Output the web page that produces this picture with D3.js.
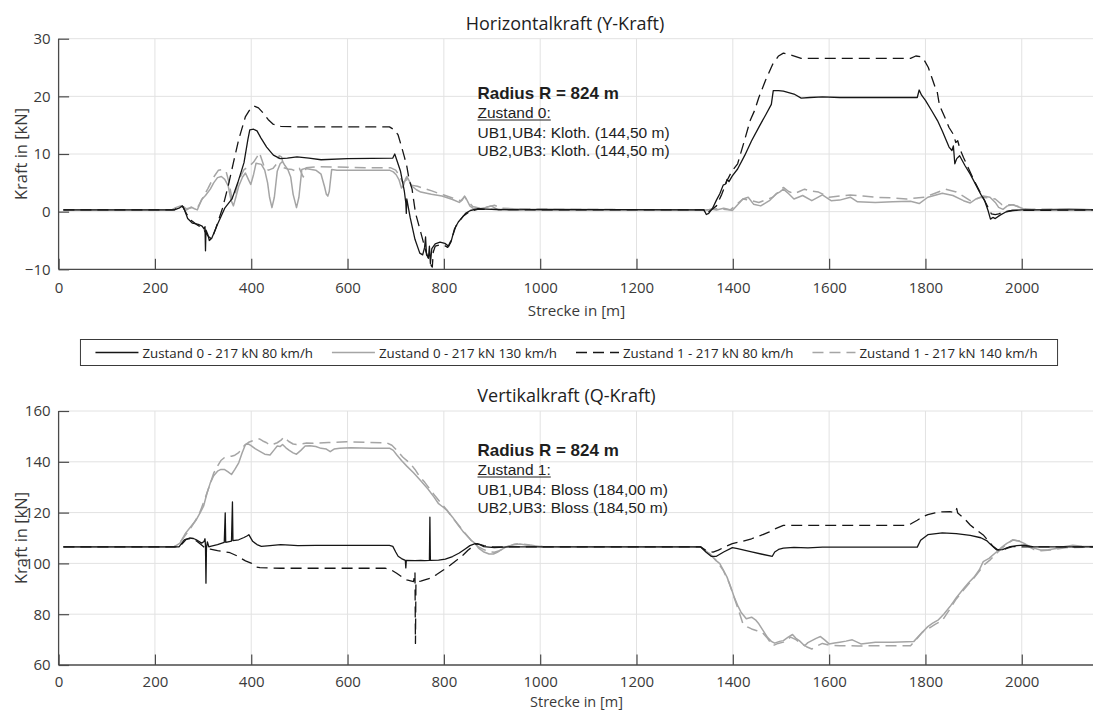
<!DOCTYPE html>
<html>
<head>
<meta charset="utf-8">
<script src="https://cdn.jsdelivr.net/npm/d3@7"></script>
<style>
  body { margin: 0; background: #fff; }
  svg { display: block; }
</style>
</head>
<body>
<svg id="chart" width="1093" height="711"></svg>
<script>
// ---- axis ticks and labels ----
const xTicks = [0, 200, 400, 600, 800, 1000, 1200, 1400, 1600, 1800, 2000];
const yTicksHoriz = [-10, 0, 10, 20, 30];
const yTicksVert = [60, 80, 100, 120, 140, 160];
const seriesLabels = [
  "Zustand 0 - 217 kN 80 km/h",
  "Zustand 0 - 217 kN 130 km/h",
  "Zustand 1 - 217 kN 80 km/h",
  "Zustand 1 - 217 kN 140 km/h"
];
const noteHoriz = ["Radius R = 824 m", "Zustand 0:", "UB1,UB4: Kloth. (144,50 m)", "UB2,UB3: Kloth. (144,50 m)"];
const noteVert = ["Radius R = 824 m", "Zustand 1:", "UB1,UB4: Bloss (184,00 m)", "UB2,UB3: Bloss (184,50 m)"];

// ---- Horizontalkraft (Y-Kraft), [Strecke m, Kraft kN] ----
const horizZ0v80 = [[10,0.3],[240,0.3],[250,0.6],[257,1.0],[262,0.2],[268,-1.2],[278,-2.0],[290,-2.2],[298,-2.5],[302,-3.0],[304,-2.6],[305,-6.8],[306,-3.2],[310,-4.0],[313,-5.0],[318,-4.6],[330,-2.2],[345,0.6],[360,2.2],[372,5.0],[385,8.5],[393,12.5],[397,14.2],[405,14.3],[412,14.0],[420,12.8],[432,11.2],[446,9.8],[460,9.2],[475,9.3],[495,9.5],[520,9.3],[545,9.0],[600,9.2],[650,9.25],[694,9.3],[698,10.0],[702,9.0],[710,7.0],[718,3.5],[721,1.5],[722,-0.3],[723,2.2],[730,-1.0],[740,-4.8],[750,-7.2],[756,-7.5],[760,-6.2],[762,-4.4],[764,-7.5],[768,-8.0],[770,-6.0],[772,-9.0],[775,-6.4],[782,-5.6],[792,-5.3],[802,-5.5],[810,-6.0],[815,-5.2],[822,-3.0],[830,-1.8],[838,-1.0],[845,-0.3],[855,0.2],[870,0.5],[900,0.4],[950,0.3],[1000,0.4],[1340,0.3],[1345,-0.5],[1350,-0.3],[1358,0.6],[1366,2.0],[1373,3.1],[1380,4.6],[1385,4.8],[1388,5.6],[1392,5.2],[1399,6.2],[1410,7.4],[1425,9.8],[1439,12.3],[1455,14.8],[1469,16.9],[1480,18.6],[1484,21.0],[1495,21.0],[1505,20.9],[1527,20.4],[1542,19.7],[1560,19.8],[1586,19.9],[1622,19.8],[1700,19.8],[1783,19.8],[1787,21.1],[1792,20.2],[1800,19.3],[1813,17.5],[1825,15.8],[1835,14.0],[1849,11.2],[1855,10.6],[1858,11.4],[1861,8.3],[1865,9.2],[1871,9.7],[1882,8.0],[1893,6.5],[1905,4.6],[1915,3.0],[1923,1.9],[1930,0.2],[1935,-1.3],[1940,-1.0],[1945,-1.2],[1955,-0.6],[1966,-0.1],[1980,0.2],[2000,0.3],[2160,0.3]];
const horizZ0v130 = [[10,0.3],[235,0.3],[243,0.7],[253,1.0],[260,0.8],[266,0.3],[275,0.8],[282,0.5],[288,0.3],[297,2.1],[305,2.8],[315,3.9],[322,5.0],[330,5.9],[338,6.1],[345,5.6],[352,4.5],[358,2.0],[363,1.0],[368,2.5],[374,4.4],[382,6.0],[388,6.7],[394,5.6],[399,4.7],[405,6.5],[410,8.4],[421,8.2],[428,7.2],[434,5.0],[438,2.5],[443,0.7],[448,2.5],[454,7.0],[460,8.3],[465,8.7],[470,8.0],[476,7.3],[482,6.0],[487,3.0],[494,0.7],[499,2.5],[505,7.3],[512,7.5],[519,7.4],[534,7.2],[545,6.5],[552,4.4],[556,3.0],[559,2.7],[562,3.5],[567,7.3],[578,7.2],[600,7.2],[650,7.2],[687,7.2],[695,6.9],[701,6.4],[707,5.5],[712,4.1],[716,4.5],[720,5.6],[723,6.1],[727,5.5],[734,4.4],[743,3.8],[752,3.4],[774,3.0],[796,2.7],[818,2.1],[832,1.6],[838,2.0],[843,2.7],[848,2.0],[854,1.0],[860,0.6],[869,0.4],[885,0.7],[898,1.0],[913,0.3],[934,0.5],[971,0.4],[1000,0.3],[1345,0.3],[1358,0.4],[1366,0.3],[1381,0.6],[1390,0.4],[1399,0.2],[1410,1.2],[1421,2.2],[1432,2.5],[1443,1.3],[1458,1.0],[1476,1.9],[1490,3.1],[1497,3.4],[1505,3.9],[1516,3.1],[1527,2.2],[1545,2.8],[1564,1.9],[1586,2.9],[1604,1.9],[1622,2.0],[1644,2.5],[1659,1.7],[1696,1.6],[1732,1.7],[1769,1.8],[1787,1.4],[1805,2.5],[1835,3.2],[1857,2.8],[1879,1.9],[1893,1.5],[1905,2.2],[1920,2.7],[1934,2.5],[1945,1.6],[1952,0.75],[1961,0.4],[1970,1.0],[1982,1.2],[2003,0.5],[2025,0.3],[2098,0.5],[2160,0.3]];
const horizZ1v80 = [[10,0.3],[240,0.3],[252,0.8],[258,0.9],[265,-0.3],[275,-1.5],[288,-2.3],[300,-3.0],[310,-4.2],[318,-4.8],[326,-3.0],[340,0.5],[352,4.4],[363,8.5],[374,12.5],[388,16.5],[398,17.8],[406,18.3],[415,18.0],[425,17.1],[435,16.0],[445,15.2],[461,14.8],[500,14.7],[600,14.7],[687,14.7],[697,14.2],[705,13.3],[712,11.3],[718,9.5],[723,7.9],[728,5.5],[734,3.9],[741,-0.2],[752,-3.6],[763,-7.0],[774,-9.4],[776,-9.6],[778,-7.0],[782,-6.0],[790,-5.8],[800,-5.8],[808,-6.2],[815,-5.0],[825,-2.5],[840,-0.8],[855,0.1],[870,0.4],[1000,0.3],[1340,0.3],[1344,-0.4],[1355,0.3],[1366,1.0],[1377,3.0],[1388,5.4],[1398,7.0],[1410,8.3],[1423,12.0],[1436,15.8],[1445,17.5],[1454,19.8],[1468,22.8],[1483,25.6],[1495,27.0],[1505,27.5],[1520,27.2],[1542,26.6],[1600,26.6],[1700,26.6],[1769,26.6],[1780,27.0],[1790,26.9],[1798,26.2],[1806,25.0],[1813,23.3],[1820,21.6],[1824,21.0],[1828,19.0],[1831,18.1],[1840,16.4],[1849,14.6],[1858,13.4],[1863,12.0],[1867,12.3],[1872,10.8],[1879,9.4],[1890,7.4],[1901,5.4],[1912,3.6],[1923,1.9],[1937,-0.4],[1945,-0.5],[1952,-0.4],[1965,0.0],[1980,0.2],[2160,0.3]];
const horizZ1v140 = [[10,0.3],[235,0.3],[245,0.6],[255,1.0],[265,0.5],[278,0.7],[290,0.9],[300,2.5],[310,4.0],[322,6.0],[332,7.2],[340,7.3],[348,6.9],[354,5.0],[360,2.2],[366,3.0],[374,5.5],[385,7.3],[395,7.8],[405,8.6],[412,9.5],[417,10.2],[422,9.0],[428,7.5],[436,7.2],[445,7.5],[452,8.2],[458,9.7],[463,9.5],[468,7.6],[476,7.4],[485,7.3],[493,7.0],[500,7.5],[508,6.0],[514,7.6],[525,7.7],[540,7.8],[600,7.7],[650,7.6],[690,7.6],[700,7.2],[708,6.2],[715,5.0],[720,5.4],[725,5.6],[732,4.6],[745,4.4],[760,4.0],[775,3.6],[785,3.3],[800,2.9],[820,2.3],[835,1.9],[843,2.6],[850,1.8],[860,0.9],[875,0.6],[890,0.8],[905,1.1],[920,0.6],[950,0.5],[1000,0.4],[1345,0.3],[1366,0.5],[1395,0.3],[1410,1.4],[1421,2.2],[1439,1.9],[1454,1.6],[1483,2.5],[1495,3.4],[1505,4.2],[1516,3.5],[1527,3.1],[1538,3.5],[1549,3.9],[1560,3.6],[1578,3.4],[1600,2.5],[1622,2.7],[1644,2.9],[1670,2.7],[1696,2.5],[1730,2.4],[1761,2.2],[1798,2.5],[1820,3.2],[1842,3.9],[1864,3.4],[1880,2.6],[1893,1.9],[1905,2.2],[1915,2.5],[1930,2.4],[1945,2.2],[1959,1.2],[1981,1.2],[2010,0.4],[2062,0.4],[2160,0.3]];

// ---- Vertikalkraft (Q-Kraft), [Strecke m, Kraft kN] ----
const vertZ0v80 = [[10,106.5],[250,106.5],[256,108.0],[261,109.3],[272,110.0],[280,109.8],[286,109.3],[297,108.0],[302,108.6],[304,109.7],[305,107.0],[306,92.2],[307,106.0],[309,108.5],[312,106.5],[315,106.7],[330,107.4],[344,108.3],[346,119.9],[347,108.3],[359,108.8],[361,124.2],[362,109.0],[374,109.3],[385,110.2],[392,110.9],[395,111.3],[403,108.7],[412,107.4],[421,106.7],[439,107.0],[461,107.4],[480,107.2],[497,107.0],[534,107.1],[600,107.1],[687,107.1],[694,106.7],[700,104.5],[705,102.8],[712,101.9],[720,101.2],[721,98.2],[722,101.2],[740,101.1],[752,101.2],[760,101.1],[770,101.2],[771,118.2],[772,101.2],[789,101.3],[803,101.7],[818,102.7],[832,104.1],[845,105.8],[854,107.0],[865,107.8],[875,107.4],[883,106.6],[905,106.2],[934,106.5],[1000,106.5],[1333,106.5],[1344,104.5],[1355,102.8],[1366,102.8],[1381,104.5],[1399,106.2],[1410,105.8],[1439,104.5],[1461,103.6],[1482,102.8],[1487,104.5],[1495,105.5],[1505,106.0],[1527,106.3],[1556,106.1],[1586,106.4],[1700,106.4],[1783,106.4],[1790,109.1],[1805,111.3],[1835,112.0],[1864,111.7],[1893,111.0],[1915,110.1],[1927,109.0],[1935,107.5],[1948,105.3],[1960,105.4],[1976,106.6],[1990,107.0],[2004,107.2],[2025,106.5],[2160,106.5]];
const vertZ0v130 = [[10,106.5],[240,106.5],[252,108.0],[264,112.0],[276,114.8],[286,117.2],[294,120.0],[301,122.5],[308,127.5],[315,131.7],[322,134.5],[330,136.3],[337,137.0],[344,137.0],[352,136.0],[359,135.0],[366,137.0],[374,139.6],[381,143.5],[388,146.8],[394,147.0],[399,146.5],[408,145.2],[417,144.2],[428,143.0],[439,142.7],[448,144.8],[454,146.2],[460,146.0],[465,146.8],[472,145.5],[479,144.5],[487,143.5],[494,143.0],[503,144.5],[512,146.2],[522,146.3],[534,146.0],[545,145.3],[556,145.0],[564,144.0],[572,145.0],[584,145.3],[607,145.5],[650,145.3],[688,145.3],[695,144.5],[702,142.8],[712,140.5],[723,138.3],[737,135.7],[752,132.5],[767,129.3],[780,126.0],[789,123.5],[798,122.2],[806,121.0],[818,118.2],[830,115.0],[840,112.5],[848,111.0],[856,109.2],[865,107.9],[872,106.0],[882,104.6],[894,103.7],[903,103.7],[913,104.6],[930,106.6],[945,107.3],[958,107.6],[979,107.0],[1006,106.6],[1333,106.5],[1352,103.8],[1366,101.0],[1373,99.9],[1380,97.5],[1388,94.6],[1396,90.5],[1403,86.7],[1410,83.5],[1417,80.8],[1428,78.2],[1439,78.8],[1447,77.8],[1454,76.2],[1463,73.5],[1472,70.9],[1480,69.3],[1487,68.6],[1497,69.3],[1505,69.6],[1515,71.0],[1524,72.0],[1531,70.5],[1538,69.6],[1549,67.6],[1556,68.8],[1564,69.6],[1573,70.5],[1582,71.2],[1590,70.0],[1600,68.3],[1611,68.7],[1622,69.0],[1635,69.4],[1648,69.9],[1666,68.3],[1696,69.0],[1732,69.0],[1776,69.3],[1790,72.2],[1805,75.1],[1815,76.5],[1827,77.8],[1838,80.0],[1851,83.0],[1864,86.5],[1879,90.0],[1890,92.5],[1901,94.6],[1912,97.5],[1920,100.7],[1932,102.0],[1948,104.6],[1958,106.3],[1969,107.9],[1982,109.2],[1994,108.8],[2004,108.0],[2020,106.3],[2039,105.3],[2055,105.4],[2072,105.9],[2090,106.7],[2106,107.1],[2125,106.8],[2160,106.6]];
const vertZ1v80 = [[10,106.5],[250,106.5],[258,108.0],[265,109.5],[275,109.8],[285,109.0],[295,107.5],[305,105.9],[315,105.6],[330,105.0],[344,104.6],[356,104.2],[370,103.0],[388,101.0],[401,100.0],[410,98.6],[418,98.3],[461,98.1],[550,98.1],[650,98.1],[678,98.1],[690,97.5],[702,96.1],[714,94.5],[723,93.5],[737,92.8],[740,96.5],[741,68.5],[742,92.8],[752,93.0],[762,93.6],[771,94.1],[785,95.6],[799,97.4],[813,99.3],[827,101.3],[840,103.3],[850,105.2],[861,106.8],[869,107.8],[883,107.0],[898,106.5],[1000,106.5],[1333,106.5],[1345,105.0],[1359,104.4],[1370,105.2],[1381,106.3],[1399,107.8],[1420,108.7],[1439,109.7],[1458,111.0],[1476,112.4],[1490,113.8],[1505,115.0],[1527,115.0],[1600,115.0],[1700,115.0],[1761,115.0],[1770,115.6],[1783,117.0],[1794,118.3],[1805,119.2],[1820,119.9],[1835,120.3],[1851,120.4],[1862,120.0],[1865,121.6],[1867,119.8],[1880,117.8],[1893,115.1],[1907,113.0],[1920,111.2],[1932,108.5],[1941,106.6],[1950,105.4],[1959,105.2],[1970,106.0],[1981,106.6],[2000,106.5],[2160,106.5]];
const vertZ1v140 = [[10,106.5],[240,106.5],[255,109.0],[272,113.3],[283,116.5],[293,119.9],[305,126.0],[315,131.5],[322,135.5],[330,138.3],[337,140.5],[344,141.6],[352,142.0],[359,142.2],[366,142.6],[374,143.6],[381,145.5],[388,146.8],[396,147.8],[403,148.3],[411,148.8],[417,149.0],[424,148.2],[432,147.5],[439,146.6],[447,147.0],[454,147.5],[462,148.5],[468,149.8],[472,149.0],[478,148.0],[487,147.0],[494,146.8],[505,147.1],[515,147.4],[529,147.3],[560,147.6],[598,147.9],[643,147.6],[681,147.5],[692,146.5],[702,144.6],[715,141.8],[730,139.4],[740,137.0],[750,134.1],[760,132.0],[770,129.5],[782,126.5],[795,123.5],[806,121.0],[818,118.0],[830,115.2],[840,112.8],[850,110.5],[860,108.5],[872,106.5],[882,105.5],[894,104.6],[905,104.4],[915,105.0],[930,106.4],[945,107.5],[958,107.8],[979,107.2],[1006,106.6],[1333,106.5],[1352,103.8],[1366,101.0],[1380,97.3],[1392,92.5],[1403,86.5],[1412,81.5],[1421,76.2],[1430,75.0],[1439,74.2],[1450,73.5],[1461,72.9],[1472,70.5],[1483,67.6],[1494,68.5],[1505,69.0],[1513,70.0],[1520,71.0],[1531,70.0],[1542,68.5],[1553,67.2],[1564,66.3],[1575,67.5],[1586,68.5],[1600,67.8],[1622,67.6],[1660,67.5],[1696,67.6],[1740,67.6],[1769,67.6],[1783,70.5],[1794,73.0],[1805,74.2],[1820,76.0],[1835,77.5],[1849,81.5],[1864,86.0],[1879,89.5],[1890,92.0],[1901,94.3],[1912,97.0],[1923,99.6],[1935,101.5],[1945,103.5],[1956,105.5],[1968,107.5],[1981,109.3],[1995,108.8],[2010,107.0],[2025,105.5],[2040,105.0],[2060,105.3],[2090,106.2],[2160,106.5]];

// ---- styles ----
const BLACK = "#161616";
const GREY = "#a5a5a5";
const DASH = "11,6";
const styles = [
  { color: BLACK, dash: null, width: 1.3 },
  { color: GREY, dash: null, width: 1.5 },
  { color: BLACK, dash: DASH, width: 1.3 },
  { color: GREY, dash: DASH, width: 1.5 }
];
const UI_FONT = "'Open Sans', 'Noto Sans', sans-serif";
const NOTE_FONT = "'Liberation Sans', Arial, sans-serif";

const svg = d3.select("#chart");
const plotLeft = 58.6, plotRight = 1094;
const x = d3.scaleLinear().domain([0, 2150]).range([plotLeft, plotRight]);

function drawPanel(cfg) {
  const y = d3.scaleLinear().domain(cfg.yDomain).range([cfg.bottom, cfg.top]);
  const g = svg.append("g");
  const clipId = "clip-" + cfg.id;
  svg.append("clipPath").attr("id", clipId)
    .append("rect").attr("x", plotLeft).attr("y", cfg.top - 2)
    .attr("width", plotRight - plotLeft).attr("height", cfg.bottom - cfg.top + 2);

  // grid
  g.append("g").selectAll("line").data(xTicks.filter(d => d > 0)).join("line")
    .attr("x1", d => x(d)).attr("x2", d => x(d))
    .attr("y1", cfg.top).attr("y2", cfg.bottom)
    .attr("stroke", "#e2e2e2").attr("stroke-width", 1);
  g.append("g").selectAll("line").data(cfg.yTicks.filter(d => d > cfg.yDomain[0])).join("line")
    .attr("x1", plotLeft).attr("x2", plotRight)
    .attr("y1", d => y(d)).attr("y2", d => y(d))
    .attr("stroke", "#e2e2e2").attr("stroke-width", 1);

  // series
  const line = d3.line().x(d => x(d[0])).y(d => y(d[1]));
  const lines = g.append("g").attr("clip-path", `url(#${clipId})`);
  // draw order: grey first, black on top
  [1, 3, 0, 2].forEach(i => {
    lines.append("path").datum(cfg.series[i])
      .attr("d", line)
      .attr("fill", "none")
      .attr("stroke", styles[i].color)
      .attr("stroke-width", styles[i].width)
      .attr("stroke-dasharray", styles[i].dash)
      .attr("stroke-linejoin", "round");
  });

  // axes (ticks pointing inward)
  const xAxis = d3.axisBottom(x).tickValues(xTicks).tickSize(-10.5).tickPadding(14).tickFormat(d3.format("d"));
  const ax = g.append("g").attr("transform", `translate(0,${cfg.bottom})`).call(xAxis);
  ax.select(".domain").attr("stroke", "#4a4a4a").attr("stroke-width", 1.3)
    .attr("d", `M${plotLeft},0H${plotRight}`);
  ax.selectAll(".tick line").attr("stroke", "#4a4a4a").attr("stroke-width", 1.2);
  ax.selectAll(".tick text").attr("font-family", UI_FONT).attr("font-size", 15)
    .attr("fill", "#3a3a3a").attr("dy", "0.71em").attr("y", cfg.tickY);

  const yAxis = d3.axisLeft(y).tickValues(cfg.yTicks).tickSize(-10.5).tickPadding(19).tickFormat(d3.format("d"));
  const ay = g.append("g").attr("transform", `translate(${plotLeft},0)`).call(yAxis);
  ay.select(".domain").attr("stroke", "#4a4a4a").attr("stroke-width", 1.3)
    .attr("d", `M0,${cfg.top}V${cfg.bottom}`);
  ay.selectAll(".tick line").attr("stroke", "#4a4a4a").attr("stroke-width", 1.2);
  ay.selectAll(".tick text").attr("font-family", UI_FONT).attr("font-size", 15)
    .attr("fill", "#3a3a3a").attr("x", -8);

  // titles and axis labels
  svg.append("text").attr("x", cfg.titleX).attr("y", cfg.top - 16)
    .attr("text-anchor", "middle").attr("dominant-baseline", "central")
    .attr("font-family", UI_FONT).attr("font-size", 18).attr("fill", "#1e1e1e")
    .text(cfg.title);
  svg.append("text").attr("x", 576.5).attr("y", cfg.xLabelY)
    .attr("text-anchor", "middle").attr("dominant-baseline", "central")
    .attr("font-family", UI_FONT).attr("font-size", cfg.xLabelSize).attr("fill", "#3a3a3a")
    .text("Strecke in [m]");
  svg.append("text")
    .attr("transform", `translate(20,${(cfg.top + cfg.bottom) / 2}) rotate(-90)`)
    .attr("text-anchor", "middle").attr("dominant-baseline", "central")
    .attr("font-family", UI_FONT).attr("font-size", 16.5).attr("fill", "#3a3a3a")
    .text("Kraft in [kN]");

  // annotation block
  const note = svg.append("g").attr("font-family", NOTE_FONT).attr("fill", "#1e1e1e");
  cfg.note.forEach((t, i) => {
    const txt = note.append("text").attr("x", 477.5).attr("y", cfg.noteY + [0, 19, 38.5, 57][i])
      .attr("font-size", i === 0 ? 17 : 15.5)
      .attr("font-weight", i === 0 ? "bold" : "normal")
      .text(t);
    if (i === 1) {
      const w = txt.node().getComputedTextLength();
      note.append("line")
        .attr("x1", 477.5).attr("x2", 477.5 + w)
        .attr("y1", cfg.noteY + 19 + 2).attr("y2", cfg.noteY + 19 + 2)
        .attr("stroke", "#1e1e1e").attr("stroke-width", 1);
    }
  });
}

drawPanel({
  id: "horiz", title: "Horizontalkraft (Y-Kraft)", titleX: 565,
  top: 38.7, bottom: 269.3, yDomain: [-10, 30], yTicks: yTicksHoriz,
  series: [horizZ0v80, horizZ0v130, horizZ1v80, horizZ1v140],
  note: noteHoriz, noteY: 99, xLabelY: 310, xLabelSize: 15.2, tickY: 13
});
drawPanel({
  id: "vert", title: "Vertikalkraft (Q-Kraft)", titleX: 566.5,
  top: 411, bottom: 665, yDomain: [60, 160], yTicks: yTicksVert,
  series: [vertZ0v80, vertZ0v130, vertZ1v80, vertZ1v140],
  note: noteVert, noteY: 456, xLabelY: 701, xLabelSize: 14.5, tickY: 11
});

// ---- legend ----
const legend = svg.append("g");
const legTop = 339.5, legBottom = 365.5, legMid = (legTop + legBottom) / 2;
const sampleLen = 43, sampleGap = 4, entryGap = 19, padL = 15, padR = 20;
const box = legend.append("rect").attr("y", legTop).attr("height", legBottom - legTop)
  .attr("fill", "#fff").attr("stroke", "#3a3a3a").attr("stroke-width", 1);
let cursor = 0;
const entries = seriesLabels.map((label, i) => {
  const eg = legend.append("g");
  eg.append("line").attr("x1", cursor).attr("x2", cursor + sampleLen)
    .attr("y1", legMid).attr("y2", legMid)
    .attr("stroke", styles[i].color).attr("stroke-width", styles[i].width)
    .attr("stroke-dasharray", styles[i].dash);
  const t = eg.append("text").attr("x", cursor + sampleLen + sampleGap).attr("y", legMid)
    .attr("dominant-baseline", "central")
    .attr("font-family", UI_FONT).attr("font-size", 13.3).attr("fill", "#262626")
    .text(label);
  cursor += sampleLen + sampleGap + t.node().getComputedTextLength() + entryGap;
  return eg;
});
const contentW = cursor - entryGap;
const boxW = padL + contentW + padR;
const boxX = 569 - boxW / 2;
box.attr("x", boxX).attr("width", boxW);
entries.forEach(eg => eg.attr("transform", `translate(${boxX + padL},0)`));
</script>
</body>
</html>
